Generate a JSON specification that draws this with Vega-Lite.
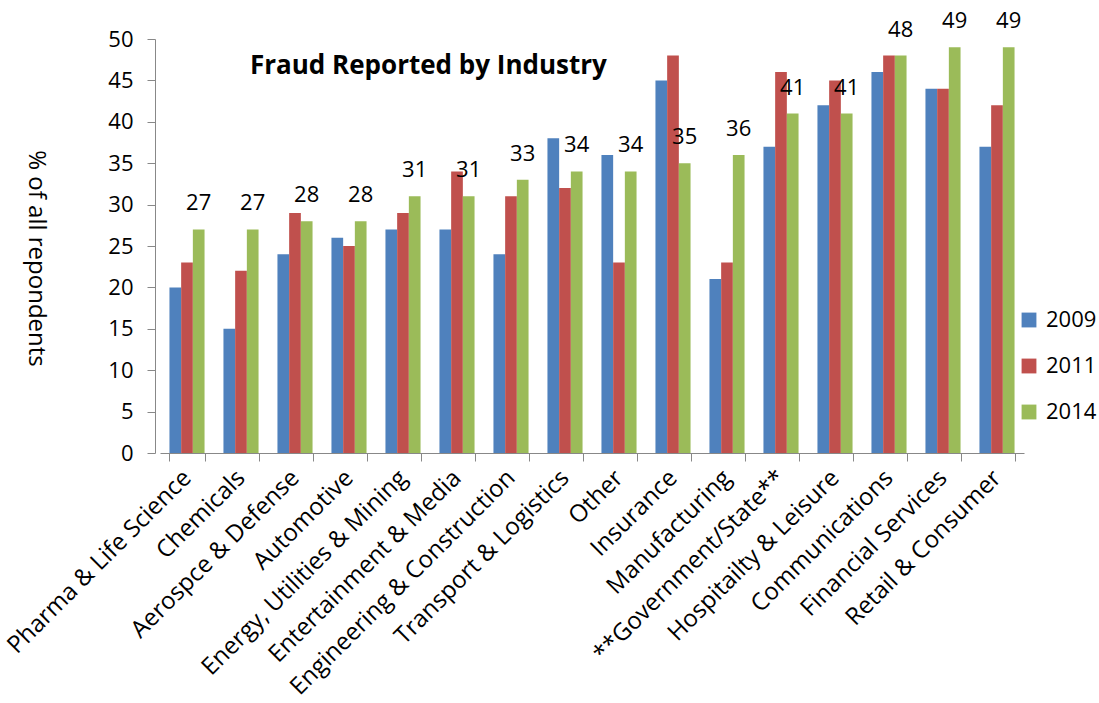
{
  "$schema": "https://vega.github.io/schema/vega-lite/v6.json",
  "autosize": "none",
  "padding": {"left": 160, "top": 39, "right": 75, "bottom": 250},
  "width": 864,
  "height": 414,
  "background": "white",
  "config": {"view": {"stroke": null}, "font": "Open Sans"},
  "title": {"text": "Fraud Reported by Industry", "anchor": "start", "frame": "group", "dx": 90, "dy": 73, "fontSize": 26, "fontWeight": "bold", "font": "Open Sans", "color": "black"},
  "data": {"values": [
    {"industry": "Pharma & Life Science", "year": "2009", "value": 20},
    {"industry": "Pharma & Life Science", "year": "2011", "value": 23},
    {"industry": "Pharma & Life Science", "year": "2014", "value": 27},
    {"industry": "Chemicals", "year": "2009", "value": 15},
    {"industry": "Chemicals", "year": "2011", "value": 22},
    {"industry": "Chemicals", "year": "2014", "value": 27},
    {"industry": "Aerospce & Defense", "year": "2009", "value": 24},
    {"industry": "Aerospce & Defense", "year": "2011", "value": 29},
    {"industry": "Aerospce & Defense", "year": "2014", "value": 28},
    {"industry": "Automotive", "year": "2009", "value": 26},
    {"industry": "Automotive", "year": "2011", "value": 25},
    {"industry": "Automotive", "year": "2014", "value": 28},
    {"industry": "Energy, Utilities & Mining", "year": "2009", "value": 27},
    {"industry": "Energy, Utilities & Mining", "year": "2011", "value": 29},
    {"industry": "Energy, Utilities & Mining", "year": "2014", "value": 31},
    {"industry": "Entertainment & Media", "year": "2009", "value": 27},
    {"industry": "Entertainment & Media", "year": "2011", "value": 34},
    {"industry": "Entertainment & Media", "year": "2014", "value": 31},
    {"industry": "Engineering & Construction", "year": "2009", "value": 24},
    {"industry": "Engineering & Construction", "year": "2011", "value": 31},
    {"industry": "Engineering & Construction", "year": "2014", "value": 33},
    {"industry": "Transport & Logistics", "year": "2009", "value": 38},
    {"industry": "Transport & Logistics", "year": "2011", "value": 32},
    {"industry": "Transport & Logistics", "year": "2014", "value": 34},
    {"industry": "Other", "year": "2009", "value": 36},
    {"industry": "Other", "year": "2011", "value": 23},
    {"industry": "Other", "year": "2014", "value": 34},
    {"industry": "Insurance", "year": "2009", "value": 45},
    {"industry": "Insurance", "year": "2011", "value": 48},
    {"industry": "Insurance", "year": "2014", "value": 35},
    {"industry": "Manufacturing", "year": "2009", "value": 21},
    {"industry": "Manufacturing", "year": "2011", "value": 23},
    {"industry": "Manufacturing", "year": "2014", "value": 36},
    {"industry": "**Government/State**", "year": "2009", "value": 37},
    {"industry": "**Government/State**", "year": "2011", "value": 46},
    {"industry": "**Government/State**", "year": "2014", "value": 41},
    {"industry": "Hospitailty & Leisure", "year": "2009", "value": 42},
    {"industry": "Hospitailty & Leisure", "year": "2011", "value": 45},
    {"industry": "Hospitailty & Leisure", "year": "2014", "value": 41},
    {"industry": "Communications", "year": "2009", "value": 46},
    {"industry": "Communications", "year": "2011", "value": 48},
    {"industry": "Communications", "year": "2014", "value": 48},
    {"industry": "Financial Services", "year": "2009", "value": 44},
    {"industry": "Financial Services", "year": "2011", "value": 44},
    {"industry": "Financial Services", "year": "2014", "value": 49},
    {"industry": "Retail & Consumer", "year": "2009", "value": 37},
    {"industry": "Retail & Consumer", "year": "2011", "value": 42},
    {"industry": "Retail & Consumer", "year": "2014", "value": 49}
  ]},
  "encoding": {
    "x": {"field": "industry", "type": "nominal", "sort": null,
      "scale": {"paddingInner": 0.35, "paddingOuter": 0.175},
      "axis": {"title": null, "labelAngle": -45, "labelAlign": "right", "labelBaseline": "middle", "labelFontSize": 24, "labelColor": "black", "labelPadding": 13, "labelLimit": 400, "tickSize": 8, "tickBand": "extent", "domainColor": "#888888", "tickColor": "#888888", "labelFont": "Open Sans"}},
    "y": {"field": "value", "type": "quantitative",
      "scale": {"domain": [0, 50]},
      "axis": {"title": "% of all repondents", "values": [0,5,10,15,20,25,30,35,40,45,50], "grid": false, "offset": 5, "tickSize": 8, "labelPadding": 14, "labelFontSize": 22, "labelColor": "black", "domainColor": "#888888", "tickColor": "#888888", "titleFontSize": 24, "titleFontWeight": "normal", "titleColor": "black", "titleX": -120, "titleY": 219, "titleAngle": 90, "titleAlign": "center", "titleBaseline": "middle", "labelFont": "Open Sans", "titleFont": "Open Sans"}},
    "xOffset": {"field": "year", "type": "nominal"}
  },
  "layer": [
    {"mark": {"type": "bar"},
     "encoding": {
       "color": {"field": "year", "type": "nominal",
         "scale": {"domain": ["2009", "2011", "2014"], "range": ["#4F81BD", "#C0504D", "#9BBB59"]},
         "legend": {"title": null, "orient": "none", "legendX": 858, "legendY": 270, "symbolType": "square", "symbolSize": 220, "symbolStrokeWidth": 0, "labelFontSize": 22, "labelColor": "black", "rowPadding": 24, "labelOffset": 6, "labelFont": "Open Sans"}}
     }},
    {"transform": [{"filter": "datum.year == '2014'"}],
     "mark": {"type": "text", "fontSize": 22, "dy": -26, "baseline": "middle", "color": "black", "font": "Open Sans"},
     "encoding": {"text": {"field": "value", "type": "quantitative"}}}
  ]
}
